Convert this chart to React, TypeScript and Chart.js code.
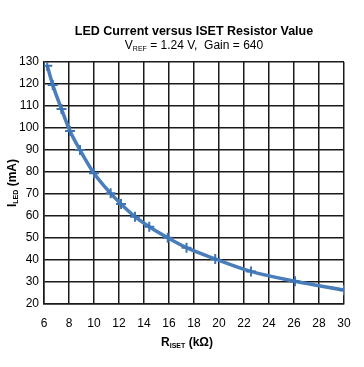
import React, { useEffect, useRef } from "react";
import { Chart, registerables } from "chart.js";

Chart.register(...registerables);

const rIset = [6.26, 6.7, 7.4, 8.08, 8.88, 10.0, 11.33, 12.16, 13.28, 14.42, 15.9, 17.4, 19.7, 22.56, 26.08, 30];
const iLed = [128.3, 119.6, 108.6, 98.6, 90, 79.4, 70.3, 65.5, 59.7, 55.1, 50.1, 45.6, 40.5, 34.8, 30.3, 26.3];
const xMin = 6, xMax = 30, xStep = 2;
const yMin = 20, yMax = 130, yStep = 10;
const titleText = "LED Current versus ISET Resistor Value";
const subtitleParts = [{ t: "V" }, { t: "REF", sub: true }, { t: " = 1.24 V,  Gain = 640" }];
const xTitleParts = [{ t: "R" }, { t: "ISET", sub: true }, { t: " (kΩ)" }];
const yTitleParts = [{ t: "I" }, { t: "LED", sub: true }, { t: " (mA)" }];

const FONT = "'Liberation Sans', Arial, sans-serif";

type Part = { t: string; sub?: boolean };

function drawRich(ctx: CanvasRenderingContext2D, parts: Part[], x: number, y: number, size: number, bold: boolean) {
  const w = bold ? "bold " : "";
  const subSize = Math.round(size * 0.62);
  let total = 0;
  for (const p of parts) {
    ctx.font = `${w}${p.sub ? subSize : size}px ${FONT}`;
    total += ctx.measureText(p.t).width;
  }
  let cx = x - total / 2;
  ctx.textBaseline = "alphabetic";
  ctx.textAlign = "left";
  for (const p of parts) {
    ctx.font = `${w}${p.sub ? subSize : size}px ${FONT}`;
    ctx.fillText(p.t, cx, p.sub ? y + 2 : y);
    cx += ctx.measureText(p.t).width;
  }
}

const textPlugin = {
  id: "richText",
  afterDraw(chart: any) {
    const ctx: CanvasRenderingContext2D = chart.ctx;
    const area = chart.chartArea;
    const cx = (area.left + area.right) / 2;
    ctx.save();
    ctx.fillStyle = "#000";
    ctx.font = `bold 12.5px ${FONT}`;
    ctx.textAlign = "center";
    ctx.textBaseline = "alphabetic";
    ctx.fillText(titleText, cx, 35);
    drawRich(ctx, subtitleParts, cx, 49, 12, false);
    drawRich(ctx, xTitleParts, 187, 346, 12, true);
    ctx.translate(16, (area.top + area.bottom) / 2);
    ctx.rotate(-Math.PI / 2);
    drawRich(ctx, yTitleParts, 0, 0, 12, true);
    ctx.restore();
  },
};

export default function App() {
  const ref = useRef<HTMLCanvasElement>(null);
  useEffect(() => {
    if (!ref.current) return;
    const chart = new Chart(ref.current, {
      type: "line",
      data: {
        datasets: [
          {
            data: rIset.map((x, i) => ({ x, y: iLed[i] })),
            borderColor: "#4a7ebb",
            backgroundColor: "#4a7ebb",
            borderWidth: 3.5,
            pointStyle: "cross",
            pointRadius: 5,
            pointBorderWidth: 2,
            pointBorderColor: "#3f74b5",
            tension: 0.4,
            cubicInterpolationMode: "monotone",
            fill: false,
          },
        ],
      },
      options: {
        animation: false,
        responsive: false,
        layout: { padding: { top: 62, right: 20, left: 0, bottom: 0 } },
        plugins: { legend: { display: false }, tooltip: { enabled: false }, title: { display: false } },
        scales: {
          x: {
            type: "linear",
            min: xMin,
            max: xMax,
            ticks: { stepSize: xStep, color: "#000", font: { family: FONT, size: 12 }, padding: 12, maxRotation: 0 },
            grid: { color: "#1a1a1a", lineWidth: 1.5, drawTicks: false },
            border: { color: "#1a1a1a", width: 1.5 },
            afterFit: (s: any) => { s.height = 367 - 304; },
          },
          y: {
            type: "linear",
            min: yMin,
            max: yMax,
            ticks: { stepSize: yStep, color: "#000", font: { family: FONT, size: 12 }, padding: 5 },
            grid: { color: "#1a1a1a", lineWidth: 1.5, drawTicks: false },
            border: { color: "#1a1a1a", width: 1.5 },
            afterFit: (s: any) => { s.width = 44; },
          },
        },
      },
      plugins: [textPlugin],
    } as any);
    return () => chart.destroy();
  }, []);
  return (
    <div style={{ position: "fixed", left: 0, top: 0, width: 364, height: 367, background: "#fff" }}>
      <canvas ref={ref} width={364} height={367} />
    </div>
  );
}
